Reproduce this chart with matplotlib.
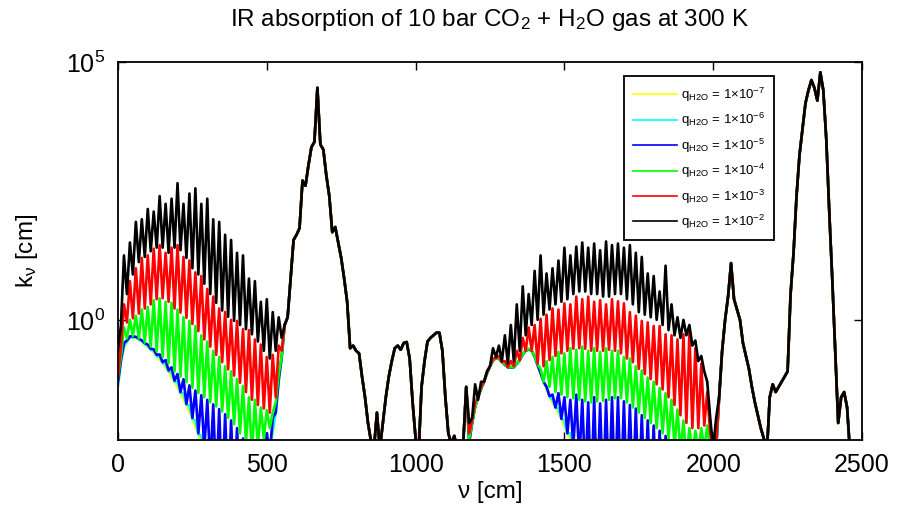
import matplotlib.pyplot as plt
import numpy as np
from matplotlib.ticker import NullLocator

plt.rcParams['font.family'] = ['Liberation Sans', 'DejaVu Sans']
plt.rcParams['mathtext.fontset'] = 'custom'
plt.rcParams['mathtext.rm'] = 'Liberation Sans'
plt.rcParams['mathtext.it'] = 'Liberation Sans:italic'
plt.rcParams['mathtext.bf'] = 'Liberation Sans:bold'

# wavenumber grid, 10 cm^-1 steps
nu = np.arange(0, 2510, 10)

# log10(k)
# 0-550 cm^-1 : H2O rotation band, one list per q_H2O
yellow_A = [-1.3, -0.8, -0.55, -0.42, -0.36, -0.34, -0.35, -0.38, -0.42, -0.47,
            -0.53, -0.58, -0.64, -0.7, -0.77, -0.84, -0.92, -1.0, -1.1, -1.2,
            -1.3, -1.42, -1.53, -1.65, -1.78, -1.92, -2.07, -2.22, -2.38, -2.55,
            -2.7, -2.85, -3.0, -3.15, -3.3, -3.4, -3.5, -3.5, -3.5, -3.5,
            -3.5, -3.5, -3.5, -3.5, -3.5, -3.5, -3.45, -3.35, -3.2, -3.0,
            -2.8, -2.5, -2.2, -1.8, -1.25, -0.75]
cyan_A = [-1.28, -0.8, -0.52, -0.42, -0.34, -0.34, -0.33, -0.38, -0.4, -0.47,
          -0.5, -0.58, -0.6, -0.7, -0.72, -0.84, -0.86, -1.0, -1.02, -1.2,
          -1.2, -1.42, -1.42, -1.65, -1.66, -1.92, -1.95, -2.22, -2.25, -2.55,
          -2.5, -2.85, -2.75, -3.15, -3.0, -3.4, -3.2, -3.5, -3.4, -3.5,
          -3.5, -3.5, -3.5, -3.5, -3.5, -3.5, -3.4, -3.35, -3.15, -3.0,
          -2.75, -2.5, -2.15, -1.8, -1.2, -0.74]
blue_A = [-1.2, -0.78, -0.45, -0.4, -0.32, -0.32, -0.33, -0.36, -0.4, -0.45,
          -0.48, -0.56, -0.57, -0.68, -0.67, -0.82, -0.78, -0.98, -0.92, -1.18,
          -1.05, -1.4, -1.15, -1.63, -1.27, -1.9, -1.37, -2.2, -1.46, -2.5,
          -1.55, -2.85, -1.64, -3.2, -1.73, -3.4, -1.83, -3.4, -1.95, -3.4,
          -2.1, -3.4, -2.3, -3.4, -2.5, -3.4, -2.6, -3.3, -2.4, -3.0,
          -2.2, -2.6, -1.9, -1.8, -1.15, -0.72]
green_A = [-1.1, -0.7, -0.15, -0.36, 0.0, -0.31, 0.08, -0.36, 0.2, -0.44,
           0.25, -0.52, 0.38, -0.62, 0.42, -0.72, 0.35, -0.84, 0.33, -1.0,
           0.2, -1.1, 0.05, -1.21, -0.02, -1.32, -0.12, -1.42, -0.3, -1.5,
           -0.42, -1.6, -0.6, -1.68, -0.72, -1.78, -0.9, -1.9, -1.0, -2.02,
           -1.15, -2.2, -1.28, -2.4, -1.5, -2.6, -1.55, -2.5, -1.7, -2.3,
           -1.75, -2.1, -1.8, -1.6, -1.05, -0.7]
red_A = [-1.1, -0.5, 0.3, -0.05, 0.75, 0.03, 1.0, 0.12, 1.2, 0.22,
         1.25, 0.3, 1.38, 0.4, 1.45, 0.42, 1.3, 0.35, 1.4, 0.22,
         1.45, 0.14, 1.22, 0.04, 1.15, -0.08, 0.92, -0.22, 0.85, -0.38,
         0.6, -0.52, 0.45, -0.68, 0.22, -0.82, 0.15, -0.96, 0.0, -1.08,
         -0.02, -1.22, -0.18, -1.4, -0.2, -1.55, -0.38, -1.65, -0.48, -1.72,
         -0.72, -1.8, -0.68, -1.5, -0.5, -0.6]
black_A = [-0.6, -0.1, 1.25, 0.5, 1.5, 0.88, 1.9, 1.12, 1.95, 1.22,
           2.15, 1.33, 2.1, 1.4, 2.4, 1.4, 2.25, 1.3, 2.35, 1.4,
           2.65, 1.35, 2.25, 1.2, 2.45, 1.0, 2.55, 0.88, 2.25, 0.7,
           2.35, 0.5, 1.95, 0.33, 1.9, 0.18, 1.65, 0.06, 1.55, -0.02,
           1.3, -0.1, 1.25, -0.18, 0.8, -0.28, 0.75, -0.42, 0.35, -0.6,
           0.4, -0.75, 0.15, -0.6, 0.05, -0.35]

# 560-1170 cm^-1 : CO2 15 um band, same for every q
co2_B = [-0.1, 0.05, 0.8, 1.55, 1.65, 1.78, 2.7, 2.6, 3.0, 3.35,
         3.45, 4.5, 3.4, 3.3, 2.8, 2.4, 1.7, 1.8, 1.5, 1.2,
         0.8, 0.35, -0.55, -0.5, -0.6, -0.65, -1.1, -1.5, -2.0, -2.35,
         -2.5, -1.8, -2.5, -2.0, -1.5, -1.1, -0.8, -0.55, -0.5, -0.58,
         -0.45, -0.43, -0.75, -1.6, -2.3, -2.6, -1.3, -0.8, -0.42, -0.35,
         -0.3, -0.25, -0.25, -0.6, -1.5, -2.2, -2.4, -2.25, -2.5, -2.6,
         -2.4, -1.3]

# 1180-2010 cm^-1 : H2O bending band
yellow_C = ([-2.4, -2.0, -1.7, -1.5, -1.35, -1.2, -1.05, -0.9, -0.8, -0.74,
             -0.76, -0.82, -0.88, -0.92, -0.93, -0.92, -0.86, -0.78, -0.68, -0.6,
             -0.58, -0.6, -0.72, -0.88, -1.05, -1.2, -1.35, -1.48, -1.6, -1.7,
             -1.8, -1.92, -2.05, -2.2, -2.3, -2.45, -2.6, -2.75, -2.9, -3.05,
             -3.2] + [-3.4] * 28 +
            [-3.35, -3.3, -3.2, -3.1, -3.0, -2.9, -2.85, -2.8, -2.8, -2.85,
             -2.9, -2.95, -3.0, -3.0, -2.5])
cyan_C = ([-2.38, -2.0, -1.68, -1.5, -1.33, -1.2, -1.03, -0.9, -0.79, -0.74,
           -0.75, -0.82, -0.87, -0.92, -0.92, -0.92, -0.85, -0.78, -0.67, -0.6,
           -0.57, -0.6, -0.71, -0.88, -1.02, -1.2, -1.3, -1.48, -1.55, -1.7,
           -1.72, -1.92, -1.95, -2.2, -2.2, -2.45, -2.45, -2.75, -2.7, -3.05,
           -3.2] + [-3.4] * 28 +
          [-3.35, -3.3, -3.2, -3.1, -3.0, -2.9, -2.85, -2.8, -2.8, -2.85,
           -2.9, -2.95, -3.0, -3.0, -2.5])
blue_C = [-2.38, -2.0, -1.69, -1.5, -1.34, -1.2, -1.04, -0.9, -0.79, -0.74,
          -0.75, -0.82, -0.87, -0.92, -0.92, -0.92, -0.85, -0.78, -0.67, -0.6,
          -0.57, -0.6, -0.71, -0.88, -1.03, -1.2, -1.3, -1.48, -1.45, -1.7,
          -1.42, -1.92, -1.5, -2.2, -1.55, -2.45, -1.45, -2.75, -1.55, -3.05,
          -1.6, -3.4, -1.5, -3.4, -1.62, -3.4, -1.55, -3.4, -1.5, -3.4,
          -1.5, -3.4, -1.58, -3.4, -1.65, -3.4, -1.72, -3.4, -1.85, -3.4,
          -1.95, -3.4, -2.05, -3.4, -2.15, -3.4, -2.25, -3.4, -2.35, -3.35,
          -2.5, -3.2, -2.7, -3.0, -2.75, -2.85, -2.65, -2.8, -2.6, -2.9,
          -2.6, -3.0, -2.7, -2.5]
green_C = [-2.3, -2.0, -1.68, -1.5, -1.33, -1.2, -1.03, -0.9, -0.78, -0.74,
           -0.75, -0.82, -0.86, -0.92, -0.91, -0.92, -0.84, -0.78, -0.66, -0.6,
           -0.56, -0.6, -0.7, -0.86, -0.95, -1.2, -0.8, -1.3, -0.72, -1.4,
           -0.62, -1.45, -0.65, -1.5, -0.55, -1.52, -0.58, -1.55, -0.52, -1.58,
           -0.6, -1.6, -0.55, -1.58, -0.62, -1.57, -0.55, -1.55, -0.6, -1.52,
           -0.6, -1.52, -0.72, -1.6, -0.75, -1.7, -0.9, -1.8, -0.98, -1.9,
           -1.12, -2.0, -1.2, -2.1, -1.32, -2.2, -1.42, -2.3, -1.55, -2.45,
           -1.74, -2.6, -1.95, -2.7, -2.1, -2.65, -2.15, -2.55, -2.1, -2.5,
           -2.05, -2.55, -2.2, -2.45]
red_C = [-2.2, -1.95, -1.6, -1.5, -1.3, -1.2, -1.0, -0.9, -0.75, -0.74,
         -0.7, -0.82, -0.8, -0.92, -0.8, -0.9, -0.6, -0.78, -0.35, -0.6,
         -0.15, -0.6, -0.1, -0.85, 0.02, -0.9, 0.1, -0.78, 0.22, -0.7,
         0.2, -0.65, 0.32, -0.6, 0.3, -0.56, 0.45, -0.55, 0.4, -0.56,
         0.45, -0.6, 0.35, -0.6, 0.38, -0.6, 0.3, -0.58, 0.4, -0.6,
         0.36, -0.65, 0.32, -0.75, 0.15, -0.82, 0.08, -0.95, -0.02, -1.05,
         -0.05, -1.15, -0.12, -1.25, -0.12, -1.35, -0.28, -1.5, -0.3, -1.65,
         -0.38, -1.85, -0.28, -2.0, -0.25, -2.1, -0.55, -2.1, -0.85, -2.05,
         -1.4, -2.2, -2.45, -2.4]
black_C = [-2.0, -1.9, -1.25, -1.55, -1.2, -1.2, -1.0, -0.9, -0.55, -0.72,
           -0.5, -0.8, -0.3, -0.85, -0.1, -0.8, 0.3, -0.6, 0.65, -0.3,
           0.5, -0.1, 0.95, 0.0, 1.25, 0.1, 0.9, 0.2, 1.0, 0.3,
           1.15, 0.35, 1.4, 0.4, 1.25, 0.5, 1.42, 0.55, 1.5, 0.55,
           1.4, 0.5, 1.48, 0.5, 1.35, 0.45, 1.52, 0.45, 1.45, 0.5,
           1.48, 0.5, 1.4, 0.4, 1.45, 0.3, 1.3, 0.15, 1.22, 0.1,
           0.9, 0.05, 0.85, 0.0, 0.55, -0.1, 1.05, -0.2, 0.3, -0.3,
           0.05, -0.35, 0.0, -0.3, -0.1, -0.5, -0.4, -0.8, -0.7, -1.0,
           -1.2, -1.9, -2.5, -1.9]

# 2020-2500 cm^-1 : CO2 bands, same for every q
co2_D = [-1.5, -0.6, 0.0, 0.45, 1.1, 0.4, 0.2, 0.0, -0.45, -0.7,
         -0.95, -1.3, -1.6, -1.85, -2.1, -2.3, -2.6, -1.5, -1.25, -1.4,
         -1.3, -1.2, -1.1, -1.0, 0.5, 1.3, 2.4, 3.2, 3.7, 4.2,
         4.45, 4.65, 4.5, 4.25, 4.8, 4.45, 3.5, 2.1, 0.8, -0.6,
         -2.0, -1.5, -1.4, -1.7, -2.6, -3.0, -3.2, -3.3, -3.4]

bands = [(yellow_A, yellow_C), (cyan_A, cyan_C), (blue_A, blue_C),
         (green_A, green_C), (red_A, red_C), (black_A, black_C)]
colors = ['#ffff00', '#00ffff', '#0000ff', '#00ff00', '#ff0000', '#000000']
exponents = ['-7', '-6', '-5', '-4', '-3', '-2']

fig = plt.figure(figsize=(9.01, 5.11), dpi=100)
ax = fig.add_axes([118/901, 71/511, 744/901, 378/511])

for (a, c), col, e in zip(bands, colors, exponents):
    logk = np.array(a + co2_B + c + co2_D)
    ax.semilogy(nu, 10**logk, color=col, lw=1.9,
                label=r'q$_{\rm H2O}$ = 1$\times$10$^{' + e + '}$')

ax.set_xlim(0, 2500)
ax.set_ylim(10**-2.33, 1e5)
ax.set_xticks([0, 500, 1000, 1500, 2000, 2500])
ax.set_yticks([1, 1e5])
ax.yaxis.set_minor_locator(NullLocator())
ax.tick_params(direction='in', top=True, right=True, length=6, width=1,
               labelsize=18, pad=9)
for s in ax.spines.values():
    s.set_linewidth(1.3)

ax.set_xlabel('ν [cm]', fontsize=17.5, labelpad=3)
ax.set_ylabel(r'k$_{\mathregular{ν}}$ [cm]', fontsize=17.5)
ax.yaxis.set_label_coords(-0.105, 0.5)
fig.text(490/901, 1 - 26/511, r'IR absorption of 10 bar CO$_2$ + H$_2$O gas at 300 K',
         ha='center', va='baseline', fontsize=17.5)

leg = ax.legend(loc='upper right', bbox_to_anchor=(0.882, 0.962), fontsize=9.5,
                fancybox=False, edgecolor='k', framealpha=1, handlelength=3.3,
                handletextpad=0.3, labelspacing=0.55, borderpad=0.7,
                borderaxespad=0)
leg.get_frame().set_linewidth(1.3)
for line in leg.get_lines():
    line.set_linewidth(1.2)

fig.savefig('out.png', dpi=100)
